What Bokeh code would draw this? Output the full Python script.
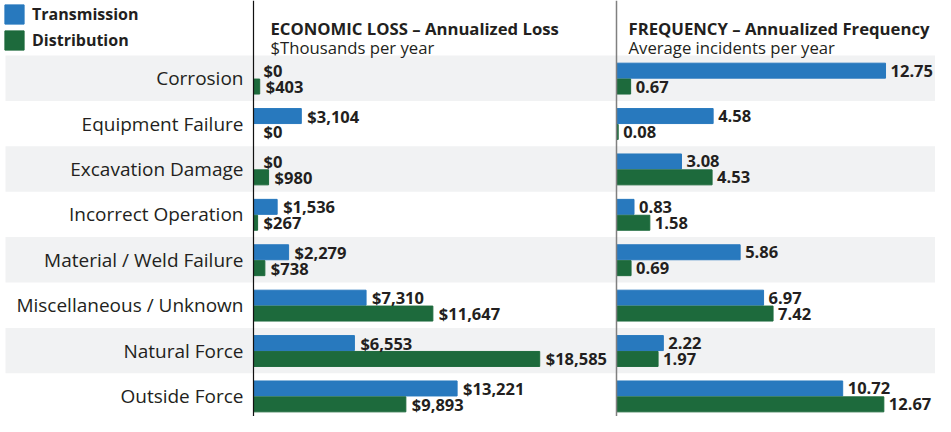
from bokeh.plotting import figure
from bokeh.models import Range1d, ColumnDataSource, BoxAnnotation, Span, Legend, LegendItem
from bokeh.core.properties import value
from bokeh.transform import dodge
from bokeh.embed import file_html
from bokeh.resources import INLINE

# ---------------- data ----------------
categories = ["Corrosion", "Equipment Failure", "Excavation Damage", "Incorrect Operation",
              "Material / Weld Failure", "Miscellaneous / Unknown", "Natural Force", "Outside Force"]
series = ["Transmission", "Distribution"]
loss_transmission = [0, 3104, 0, 1536, 2279, 7310, 6553, 13221]
loss_distribution = [403, 0, 980, 267, 738, 11647, 18585, 9893]
freq_transmission = [12.75, 4.58, 3.08, 0.83, 5.86, 6.97, 2.22, 10.72]
freq_distribution = [0.67, 0.08, 4.53, 1.58, 0.69, 7.42, 1.97, 12.67]
loss_title = "ECONOMIC LOSS \u2013 Annualized Loss"
loss_subtitle = "$Thousands per year"
freq_title = "FREQUENCY \u2013 Annualized Frequency"
freq_subtitle = "Average incidents per year"

# ---------------- style / layout ----------------
FONT = "Open Sans"
TXT = "#231f20"
BLUE = "#2879be"
GREEN = "#1d6a3c"
BAND = "#f1f2f3"
W, H = 935, 416
ROW_PX = 45.4
ROW0_TOP = 55.0
row0_c = ROW0_TOP + ROW_PX / 2
def py(px):  # pixel row -> row units
    return (px - row0_c) / ROW_PX

LOSS_ZERO, LOSS_K = 253.0, 0.0154   # px, px per $ (thousands) unit
FREQ_ZERO, FREQ_K = 616.0, 21.1

idx = list(range(len(categories)))
src = ColumnDataSource(dict(
    idx=idx, cat=categories,
    lt=loss_transmission, ld=loss_distribution,
    ft=freq_transmission, fd=freq_distribution,
    lt_lbl=["${:,}".format(v) for v in loss_transmission],
    ld_lbl=["${:,}".format(v) for v in loss_distribution],
    ft_lbl=["{:.2f}".format(v) for v in freq_transmission],
    fd_lbl=["{:.2f}".format(v) for v in freq_distribution],
    lt_off=[10 if v == 0 else 6 for v in loss_transmission],
    ld_off=[10 if v == 0 else 6 for v in loss_distribution],
))

p = figure(width=W, height=H, output_backend="svg", toolbar_location=None,
           x_range=Range1d(-LOSS_ZERO / LOSS_K, (W - LOSS_ZERO) / LOSS_K),
           y_range=Range1d(py(H), py(0)),
           x_axis_location=None, y_axis_location=None, min_border=0,
           outline_line_color=None, background_fill_color="white")
p.extra_x_ranges = {"freq": Range1d(-FREQ_ZERO / FREQ_K, (W - FREQ_ZERO) / FREQ_K)}
p.grid.visible = False

# alternating row bands
for i in idx[::2]:
    p.add_layout(BoxAnnotation(top=i - 0.5, bottom=i + 0.5, left=5, left_units="screen",
                               fill_color=BAND, fill_alpha=1, line_color=None,
                               level="underlay"))

OFF_T, OFF_D, BH = -0.166, 0.184, 0.33
rt = p.hbar(y=dodge("idx", OFF_T), left=0, right="lt", height=BH, color=BLUE, source=src)
rd = p.hbar(y=dodge("idx", OFF_D), left=0, right="ld", height=BH, color=GREEN, source=src)
p.hbar(y=dodge("idx", OFF_T), left=0, right="ft", height=BH, color=BLUE, source=src, x_range_name="freq")
p.hbar(y=dodge("idx", OFF_D), left=0, right="fd", height=BH, color=GREEN, source=src, x_range_name="freq")

lbl = dict(text_font=value(FONT), text_font_style="bold", text_font_size="16.5px",
           text_color=TXT, text_align="left", text_baseline="middle", source=src)
p.text(x="lt", y=dodge("idx", OFF_T), text="lt_lbl", x_offset="lt_off", **lbl)
p.text(x="ld", y=dodge("idx", OFF_D), text="ld_lbl", x_offset="ld_off", **lbl)
p.text(x="ft", y=dodge("idx", OFF_T), text="ft_lbl", x_offset=5, x_range_name="freq", **lbl)
p.text(x="fd", y=dodge("idx", OFF_D), text="fd_lbl", x_offset=5, x_range_name="freq", **lbl)

# category labels
p.text(x=0, y="idx", text="cat", x_offset=-10, text_align="right", text_baseline="middle",
       text_font=value(FONT), text_font_size="19px", text_color=TXT, source=src)

# axis lines
p.add_layout(Span(location=0, dimension="height", line_color="#111111", line_width=1.2))
p.add_layout(Span(location=0, dimension="height", line_color="#808080", line_width=1.5,
                  x_range_name="freq"))

# headers
hdr = dict(text_font=value(FONT), text_font_size="16.7px", text_color=TXT,
           text_align="left", text_baseline="alphabetic")
p.text(x=[0], y=[py(27.5)], text=[loss_title], x_offset=17, text_font_style="bold", **hdr)
p.text(x=[0], y=[py(47)], text=[loss_subtitle], x_offset=17, **hdr)
p.text(x=[0], y=[py(27.5)], text=[freq_title], x_offset=12, text_font_style="bold",
       x_range_name="freq", **hdr)
p.text(x=[0], y=[py(47)], text=[freq_subtitle], x_offset=12, x_range_name="freq", **hdr)

legend = Legend(items=[LegendItem(label=series[0], renderers=[rt]),
                       LegendItem(label=series[1], renderers=[rd])],
                location="top_left", margin=2, padding=0, spacing=2,
                glyph_width=24, glyph_height=24, label_height=24, label_standoff=6,
                label_text_font=FONT, label_text_font_style="bold",
                label_text_font_size="16px", label_text_color=TXT,
                border_line_color=None, background_fill_alpha=0)
p.add_layout(legend)

open("out.html", "w").write(file_html(p, INLINE))
